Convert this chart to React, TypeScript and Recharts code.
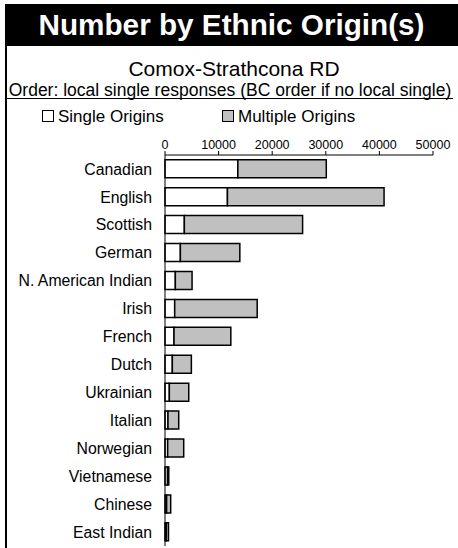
import { BarChart, Bar, XAxis, YAxis } from 'recharts';

const origins = [
  'Canadian',
  'English',
  'Scottish',
  'German',
  'N. American Indian',
  'Irish',
  'French',
  'Dutch',
  'Ukrainian',
  'Italian',
  'Norwegian',
  'Vietnamese',
  'Chinese',
  'East Indian',
];

const singleOrigins = [13590, 11650, 3610, 2870, 1930, 1810, 1680, 1370, 810, 560, 500, 480, 300, 250];
const multipleOrigins = [16500, 29220, 22060, 11090, 3120, 15390, 10600, 3550, 3620, 2000, 2990, 220, 760, 400];

const xTicks = [0, 10000, 20000, 30000, 40000, 50000];

const data = origins.map((name, i) => ({
  name,
  single: singleOrigins[i],
  multiple: multipleOrigins[i],
}));

const FONT = '"Liberation Sans", Arial, sans-serif';

const LegendSwatch = ({ fill }: { fill: string }) => (
  <span
    style={{
      display: 'inline-block',
      width: 10,
      height: 10,
      border: '1.5px solid #000',
      background: fill,
      marginRight: 4,
      verticalAlign: 'middle',
      position: 'relative',
      top: -2,
    }}
  />
);

const App = () => {
  return (
    <div
      style={{
        position: 'absolute',
        left: 0,
        top: 0,
        width: 458,
        height: 548,
        overflow: 'hidden',
        background: '#fff',
        fontFamily: FONT,
        color: '#000',
      }}
    >
      {/* title band */}
      <div
        style={{
          position: 'absolute',
          left: 5,
          top: 4,
          width: 453,
          height: 42,
          background: '#000',
          color: '#fff',
          fontWeight: 'bold',
          fontSize: 29.7,
          lineHeight: '42px',
          textAlign: 'center',
          whiteSpace: 'nowrap',
        }}
      >
        Number by Ethnic Origin(s)
      </div>
      <div style={{ position: 'absolute', left: 5, top: 46, width: 2, height: 510, background: '#000' }} />
      <div
        style={{
          position: 'absolute',
          left: 5,
          top: 59,
          width: 458,
          fontSize: 21,
          lineHeight: '19px',
          textAlign: 'center',
          whiteSpace: 'nowrap',
        }}
      >
        Comox-Strathcona RD
      </div>
      <div
        style={{
          position: 'absolute',
          left: 0,
          top: 82.1,
          width: 460,
          fontSize: 17.5,
          lineHeight: '16px',
          textAlign: 'center',
          whiteSpace: 'nowrap',
        }}
      >
        Order: local single responses (BC order if no local single)
      </div>
      <div style={{ position: 'absolute', left: 5, top: 97.8, width: 448, height: 1.5, background: '#000' }} />

      {/* legend */}
      <div style={{ position: 'absolute', left: 42, top: 107, fontSize: 17, lineHeight: '20px', whiteSpace: 'nowrap' }}>
        <LegendSwatch fill="#fff" />
        Single Origins
      </div>
      <div style={{ position: 'absolute', left: 222, top: 107, fontSize: 17, lineHeight: '20px', whiteSpace: 'nowrap' }}>
        <LegendSwatch fill="#c0c0c0" />
        Multiple Origins
      </div>

      <div style={{ position: 'absolute', left: 0, top: 0 }}>
        <BarChart
          width={458}
          height={548}
          data={data}
          layout="vertical"
          barCategoryGap="17%"
          margin={{ top: 130, right: 25, bottom: 2, left: 0 }}
        >
          <XAxis
            type="number"
            orientation="top"
            domain={[0, 50000]}
            ticks={xTicks}
            height={25}
            tickSize={4}
            axisLine={{ stroke: '#000' }}
            tickLine={{ stroke: '#000' }}
            tick={{ fill: '#000', fontSize: 12.5, fontFamily: FONT }}
            interval={0}
          />
          <YAxis
            type="category"
            dataKey="name"
            width={165}
            tickLine={false}
            tickMargin={7}
            axisLine={{ stroke: '#000' }}
            tick={{ fill: '#000', fontSize: 15.8, fontFamily: FONT }}
            interval={0}
          />
          <Bar dataKey="single" stackId="a" fill="#ffffff" stroke="#000" strokeWidth={1.5} isAnimationActive={false} />
          <Bar dataKey="multiple" stackId="a" fill="#c0c0c0" stroke="#000" strokeWidth={1.5} isAnimationActive={false} />
        </BarChart>
      </div>
    </div>
  );
};

export default App;
